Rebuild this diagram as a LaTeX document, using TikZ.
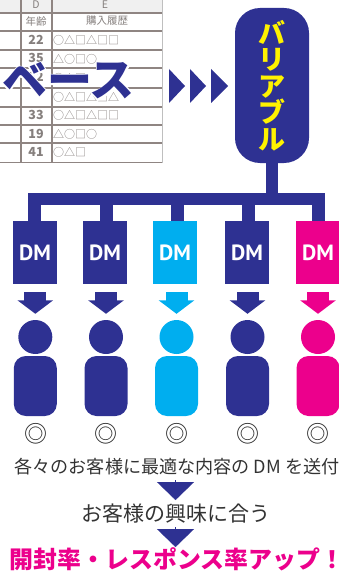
\documentclass[tikz,border=0pt]{standalone}
\usepackage{xcolor}
\usepackage{fontspec}
\usepackage{tikz}
\usetikzlibrary{arrows.meta}
\setmainfont{Noto Sans CJK JP}
\newfontfamily\halofont[BoldFeatures={FakeBold=6}]{Noto Sans CJK JP}
\newfontfamily\dmfont{PT Sans}
\definecolor{navy}{HTML}{2E3192}
\definecolor{sky}{HTML}{00AEEF}
\definecolor{pink}{HTML}{EC008C}
\definecolor{lemon}{HTML}{FFF200}
\definecolor{grid}{HTML}{8F8582}
\definecolor{ink}{HTML}{857F7D}
\tikzset{
  dmbox/.style={rectangle,minimum width=44pt,minimum height=63pt,inner sep=0pt,text=white,font=\dmfont\fontsize{22}{22}\selectfont\bfseries},
  headdot/.style={circle,minimum size=34pt,inner sep=0pt},
  bodybox/.style={rectangle,rounded corners=12pt,minimum width=43pt,minimum height=60pt,inner sep=0pt},
  ringmark/.style={inner sep=0pt,text=black!85,font=\fontsize{23}{23}\selectfont},
  treeline/.style={draw=navy,line width=12.5pt},
  flowline/.style={-{Triangle[length=13.5pt,width=35pt]},line width=22pt,shorten <=8pt,shorten >=6pt},
  bigtip/.style={-{Triangle[length=18pt,width=37pt]},draw=navy,line width=0.1pt},
  cellhead/.style={inner sep=0pt,text=ink,font=\fontsize{10.5}{10.5}\selectfont},
  cellnum/.style={inner sep=0pt,text=ink,font=\fontsize{12.5}{12.5}\selectfont\bfseries},
  cellhist/.style={inner sep=0pt,anchor=west,text=ink,font=\fontsize{11}{11}\selectfont},
  captext/.style={inner sep=0pt,text=black!80}
}
\begin{document}
\begin{tikzpicture}[x=1pt,y=-1pt]
  \useasboundingbox (0,0) rectangle (339,575);

  \fill[black!6] (0,0) rectangle (163,13);
  \draw[grid,line width=1.1pt] (0,13) -- (163,13);
  \draw[grid,line width=1.1pt] (0,31) -- (163,31);
  \draw[grid,line width=1.1pt] (0,50) -- (163,50);
  \draw[grid,line width=1.1pt] (0,68) -- (163,68);
  \draw[grid,line width=1.1pt] (0,88) -- (163,88);
  \draw[grid,line width=1.1pt] (0,107) -- (163,107);
  \draw[grid,line width=1.1pt] (0,125) -- (163,125);
  \draw[grid,line width=1.1pt] (0,143) -- (163,143);
  \draw[grid,line width=1.1pt] (0,162.5) -- (163,162.5);
  \draw[grid,line width=1.1pt] (21,0) -- (21,163);
  \draw[grid,line width=1.1pt] (52,0) -- (52,163);
  \draw[black!25,line width=1.5pt] (162.5,0) -- (162.5,163);

  \node[cellhead] (colD) at (36,5) {D};
  \node[cellhead] (colE) at (105,5) {E};
  \node[cellhead] (age) at (36,21) {年齢};
  \node[cellhead] (history) at (107,21) {購入履歴};
  \node[cellnum] (age1) at (36,40) {22};
  \node[cellnum] (age2) at (36,58) {35};
  \node[cellnum] (age3) at (36,77) {32};
  \node[cellnum] (age5) at (36,115) {33};
  \node[cellnum] (age6) at (36,134) {19};
  \node[cellnum] (age7) at (36,152) {41};
  \node[cellhist] (hist1) at (53,40) {○△□△□□};
  \node[cellhist] (hist2) at (53,59) {△○□○};
  \node[cellhist] (hist3) at (53,78) {○△□};
  \node[cellhist] (hist4) at (53,97) {○△□△□△};
  \node[cellhist] (hist5) at (53,115) {○△□△□□};
  \node[cellhist] (hist6) at (53,134) {△○□○};
  \node[cellhist] (hist7) at (53,152) {○△□};

  \node[inner sep=0pt,anchor=east,text=white,font=\halofont\fontsize{45}{45}\selectfont\bfseries] (basehalo) at (135,81) {ベース};
  \node[inner sep=0pt,anchor=east,text=navy,font=\fontsize{45}{45}\selectfont\bfseries] (base) at (135,81) {ベース};

  \fill[navy] (169,69) -- (185,86) -- (169,103) -- cycle;
  \fill[navy] (190,69) -- (206,86) -- (190,103) -- cycle;
  \fill[navy] (211,69) -- (228,86) -- (211,103) -- cycle;

  \node[rectangle,rounded corners=25pt,fill=navy,minimum width=74pt,minimum height=155pt,inner sep=0pt,text=lemon,align=center,font=\fontsize{27}{26.5}\selectfont\bfseries] (variable) at (272,85.5) {バ\\リ\\ア\\ブ\\ル};

  \node[dmbox,fill=navy] (dm1) at (35,252.5) {DM};
  \node[dmbox,fill=navy] (dm2) at (105,252.5) {DM};
  \node[dmbox,fill=sky] (dm3) at (175,252.5) {DM};
  \node[dmbox,fill=navy] (dm4) at (247,252.5) {DM};
  \node[dmbox,fill=pink] (dm5) at (318,252.5) {DM};

  \coordinate (drop1) at (34.3,199);
  \coordinate (drop2) at (106.5,199);
  \coordinate (drop3) at (177.5,199);
  \coordinate (drop4) at (248.5,199);
  \coordinate (drop5) at (318.5,199);
  \draw[treeline] (drop1 |- dm1.north) -- (drop1) -- (drop5) -- (drop5 |- dm5.north);
  \draw[treeline] (drop2) -- (drop2 |- dm2.north);
  \draw[treeline] (drop3) -- (drop3 |- dm3.north);
  \draw[treeline] (drop4) -- (drop4 |- dm4.north);
  \draw[treeline] (variable.south) -- (variable.south |- drop1);

  \node[headdot,fill=navy] (head1) at (35.3,337) {};
  \node[headdot,fill=navy] (head2) at (106,337) {};
  \node[headdot,fill=sky] (head3) at (176.5,337) {};
  \node[headdot,fill=navy] (head4) at (247.5,337) {};
  \node[headdot,fill=pink] (head5) at (318,337) {};

  \draw[flowline,navy] (dm1.south -| head1) -- (head1.north);
  \draw[flowline,navy] (dm2.south -| head2) -- (head2.north);
  \draw[flowline,sky] (dm3.south -| head3) -- (head3.north);
  \draw[flowline,navy] (dm4.south -| head4) -- (head4.north);
  \draw[flowline,pink] (dm5.south -| head5) -- (head5.north);

  \node[bodybox,fill=navy] (body1) at (35.3,386) {};
  \node[bodybox,fill=navy] (body2) at (106,386) {};
  \node[bodybox,fill=sky] (body3) at (176.5,386) {};
  \node[bodybox,fill=navy] (body4) at (247.5,386) {};
  \node[bodybox,fill=pink] (body5) at (318,386) {};

  \node[ringmark] (ring1) at (35.5,434) {◎};
  \node[ringmark] (ring2) at (106,434) {◎};
  \node[ringmark] (ring3) at (176.5,434) {◎};
  \node[ringmark] (ring4) at (247.5,434) {◎};
  \node[ringmark] (ring5) at (318,434) {◎};

  \node[captext,font=\fontsize{18.1}{18.1}\selectfont] (send) at (177,467) {各々のお客様に最適な内容の DM を送付};
  \node[captext,font=\fontsize{21}{21}\selectfont] (match) at (176,514) {お客様の興味に合う};
  \node[inner sep=0pt,text=pink,font=\fontsize{23.9}{23.9}\selectfont\bfseries] (result) at (173.5,559) {開封率・レスポンス率アップ！\kern-7pt};

  \coordinate (tip1) at (175.5,500);
  \coordinate (tip2) at (175.5,547);
  \draw[bigtip] (175.5,480) -- (tip1);
  \draw[bigtip] (175.5,527) -- (tip2);
\end{tikzpicture}
\end{document}
